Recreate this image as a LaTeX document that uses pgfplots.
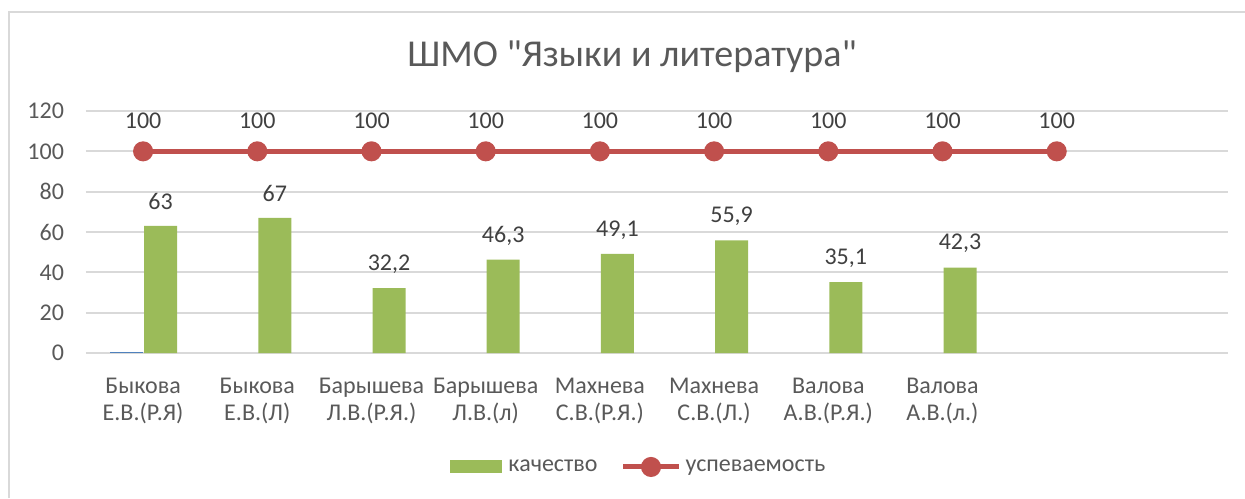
\documentclass[border=0pt]{standalone}
\usepackage{pgfplots}
\pgfplotsset{compat=1.18}
\usepackage{fontspec}
\setmainfont{Carlito}
\newfontfamily\titlefont{Carlito}[Ligatures=TeXOff]
\definecolor{cgreen}{HTML}{9BBB59}
\definecolor{cred}{HTML}{C0504D}
\definecolor{cblue}{HTML}{4F81BD}
\definecolor{cgrid}{HTML}{D9D9D9}
\definecolor{ctext}{HTML}{595959}
\definecolor{clab}{HTML}{404040}
\pgfplotstableread{
x y lab
0 63 63
1 67 67
2 32.2 {32,2}
3 46.3 {46,3}
4 49.1 {49,1}
5 55.9 {55,9}
6 35.1 {35,1}
7 42.3 {42,3}
}\kach
\pgfplotstableread{
x y lab
0 100 100
1 100 100
2 100 100
3 100 100
4 100 100
5 100 100
6 100 100
7 100 100
8 100 100
}\usp
\begin{document}
\begin{tikzpicture}
\useasboundingbox (0,0) rectangle (622.5pt,249pt);
\draw[cgrid, line width=1pt] (4.5pt,0) -- (4.5pt,243pt) -- (622.5pt,243pt);
\node[font=\titlefont\fontsize{19pt}{22pt}\selectfont, text=ctext] at (316pt,220.5pt) {ШМО "Языки и литература"};
\begin{axis}[
  at={(43pt,72.5pt)}, anchor=south west,
  scale only axis, width=571pt, height=121pt,
  xmin=-0.5, xmax=9.5, ymin=0, ymax=120,
  ytick={0,20,...,120},
  xtick={0,...,9},
  xticklabels={{Быкова\\Е.В.(Р.Я)},{Быкова\\Е.В.(Л)},{Барышева\\Л.В.(Р.Я.)},{Барышева\\Л.В.(л)},{Махнева\\С.В.(Р.Я.)},{Махнева\\С.В.(Л.)},{Валова\\А.В.(Р.Я.)},{Валова\\А.В.(л.)},{},{}},
  xticklabel style={align=center, font=\fontsize{12pt}{13.5pt}\selectfont, text=ctext, yshift=-9pt},
  yticklabel style={font=\fontsize{12pt}{13.5pt}\selectfont, text=ctext, xshift=-7.5pt},
  /pgf/number format/assume math mode=true,
  axis line style={draw=none},
  major tick style={draw=none},
  ymajorgrids, grid style={cgrid, line width=0.9pt},
  clip=false,
  legend style={draw=none, fill=none, legend columns=2,
    at={(rel axis cs:0.485,-0.471)}, anchor=center,
    font=\fontsize{12pt}{13.5pt}\selectfont, text=ctext,
    /tikz/every even column/.append style={column sep=9.5pt},
    inner sep=0pt},
  nodes near coords={\pgfplotspointmeta},
  every node near coord/.append style={font=\fontsize{12pt}{13.5pt}\selectfont, text=clab, anchor=center},
]
\addplot[ybar, bar width=16.5pt, bar shift=-8.25pt, fill=cblue, draw=none, forget plot, nodes near coords={}] coordinates {(0,0.3)};
\addplot[ybar, bar width=16.5pt, bar shift=8.75pt, fill=cgreen, draw=none,
  point meta=explicit symbolic,
  every node near coord/.append style={yshift=12pt, xshift=8.75pt},
  legend image code/.code={\fill[cgreen] (0pt,-3.25pt) rectangle (26pt,3.25pt);}]
  table[x=x, y=y, meta=lab] {\kach};
\addlegendentry{\hspace{1pt}качество}
\addplot[cred, line width=2.5pt, mark=*, mark size=3.75pt, mark options={fill=cred, draw=none},
  point meta=explicit symbolic,
  every node near coord/.append style={yshift=15.5pt},
  legend image code/.code={\draw[cred, line width=2.5pt] (0pt,0pt) -- (28pt,0pt); \fill[cred] (14pt,0pt) circle (3.75pt);}]
  table[x=x, y=y, meta=lab] {\usp};
\addlegendentry{успеваемость}
\end{axis}
\end{tikzpicture}
\end{document}
